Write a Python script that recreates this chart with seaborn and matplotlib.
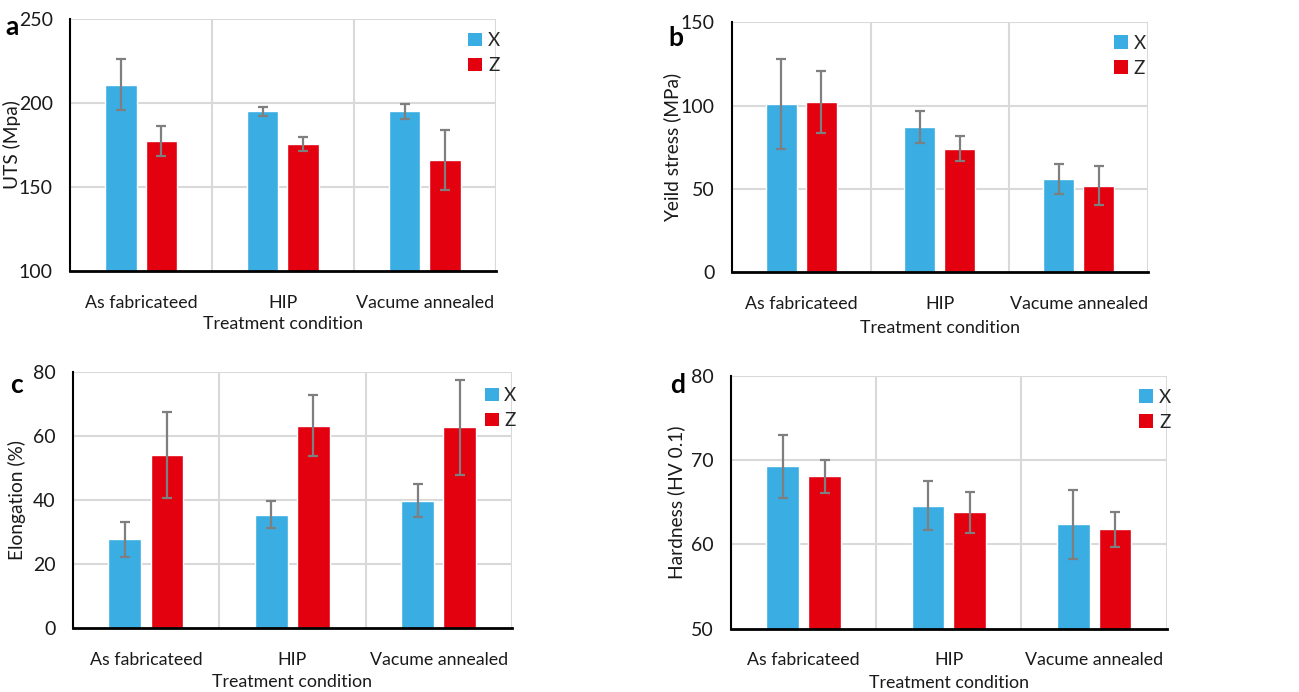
import numpy as np
import pandas as pd
import matplotlib
matplotlib.use("Agg")
import matplotlib.pyplot as plt
from matplotlib.patches import Patch
import seaborn as sns

categories = ["As fabricateed", "HIP", "Vacume annealed"]
directions = ["X", "Z"]

uts_x = [211, 195, 195]
uts_z = [177.5, 175.5, 166]
uts_x_err = [15, 2.5, 4.5]
uts_z_err = [9, 4, 18]

ys_x = [101, 87, 56]
ys_z = [102, 74, 52]
ys_x_err = [27, 9.5, 9]
ys_z_err = [18.5, 7.5, 11.5]

el_x = [27.7, 35.4, 39.7]
el_z = [53.9, 63.1, 62.6]
el_x_err = [5.4, 4.1, 5.2]
el_z_err = [13.4, 9.5, 14.7]

hv_x = [69.3, 64.6, 62.4]
hv_z = [68.1, 63.8, 61.8]
hv_x_err = [3.75, 2.9, 4.1]
hv_z_err = [1.95, 2.4, 2.05]

BLUE = "#3AADE2"
RED = "#E3000F"
ERR = "#7F7F7F"
GRID = "#D9D9D9"
TXT = "#1a1a1a"

sns.set_theme(style="white")
plt.rcParams["font.family"] = ["Lato", "DejaVu Sans"]

fig = plt.figure(figsize=(12.99, 6.92), dpi=100)

panels = [
    dict(rect=[0.0539, 0.6084, 0.3279, 0.3641], x=uts_x, z=uts_z, xe=uts_x_err, ze=uts_z_err,
         ylim=(100, 250), ticks=[100, 150, 200, 250], ylabel="UTS (Mpa)", letter="a",
         lpos=(0.004, 0.950), leg=(1.01, 0.948), ylx=-0.136, xlp=4),
    dict(rect=[0.5633, 0.6065, 0.3205, 0.3613], x=ys_x, z=ys_z, xe=ys_x_err, ze=ys_z_err,
         ylim=(0, 150), ticks=[0, 50, 100, 150], ylabel="Yeild stress (MPa)", letter="b",
         lpos=(0.5145, 0.933), leg=(0.995, 0.95), ylx=-0.143, xlp=6),
    dict(rect=[0.0560, 0.0925, 0.3381, 0.3704], x=el_x, z=el_z, xe=el_x_err, ze=el_z_err,
         ylim=(0, 80), ticks=[0, 20, 40, 60, 80], ylabel="Elongation (%)", letter="c",
         lpos=(0.008, 0.432), leg=(1.01, 0.94), ylx=-0.127, xlp=4.5),
    dict(rect=[0.5627, 0.0915, 0.3355, 0.3651], x=hv_x, z=hv_z, xe=hv_x_err, ze=hv_z_err,
         ylim=(50, 80), ticks=[50, 60, 70, 80], ylabel="Hardness (HV 0.1)", letter="d",
         lpos=(0.516, 0.432), leg=(1.01, 0.95), ylx=-0.1246, xlp=5),
]

for p in panels:
    ax = fig.add_axes(p["rect"])
    df = pd.DataFrame({
        "Treatment": categories * 2,
        "Direction": ["X"] * 3 + ["Z"] * 3,
        "Value": list(p["x"]) + list(p["z"]),
    })
    sns.barplot(data=df, x="Treatment", y="Value", hue="Direction", order=categories,
                hue_order=directions, palette=[BLUE, RED], width=0.576, gap=0.22,
                errorbar=None, saturation=1, ax=ax, legend=False, zorder=3)
    errs = [p["xe"], p["ze"]]
    vals = [p["x"], p["z"]]
    bar_conts = list(ax.containers)
    for i, cont in enumerate(bar_conts):
        xs = [b.get_x() + b.get_width() / 2 for b in cont]
        ax.errorbar(xs, vals[i], yerr=errs[i], fmt="none", ecolor=ERR, elinewidth=1.6,
                    capsize=3.8, capthick=1.6, zorder=4)
    ax.set_xlim(-0.5, 2.5)
    ax.set_ylim(*p["ylim"])
    ax.set_yticks(p["ticks"])
    ax.set_yticklabels([str(t) for t in p["ticks"]])
    for t in p["ticks"][1:]:
        ax.axhline(t, color=GRID, lw=1.5, zorder=1)
    for xv in [0.5, 1.5, 2.5]:
        ax.axvline(xv, color=GRID, lw=1.5, zorder=1)
    for s in ["top", "right"]:
        ax.spines[s].set_visible(False)
    ax.spines["left"].set_color("black")
    ax.spines["left"].set_linewidth(1.5)
    ax.spines["bottom"].set_color("black")
    ax.spines["bottom"].set_linewidth(2)
    ax.spines["left"].set_zorder(5)
    ax.spines["bottom"].set_zorder(5)
    ax.tick_params(axis="both", length=0, colors=TXT)
    ax.tick_params(axis="x", pad=17, labelsize=12.8)
    ax.tick_params(axis="y", pad=12.5, labelsize=14)
    ax.set_xlabel("Treatment condition", fontsize=12.8, color=TXT, labelpad=p["xlp"])
    ax.set_ylabel(p["ylabel"], fontsize=13.8, color=TXT)
    ax.yaxis.set_label_coords(p["ylx"], 0.5)
    ax.yaxis.label.set_verticalalignment("center")
    handles = [Patch(facecolor=BLUE, edgecolor="none", label="X"),
               Patch(facecolor=RED, edgecolor="none", label="Z")]
    ax.legend(handles=handles, loc="upper right", bbox_to_anchor=p["leg"], frameon=False,
              fontsize=13.5, handlelength=0.75, handleheight=0.75, handletextpad=0.3,
              labelspacing=0.42, borderaxespad=0, borderpad=0)
    fig.text(p["lpos"][0], p["lpos"][1], p["letter"], fontsize=19, fontweight="bold",
             color="black", ha="left", va="baseline")

fig.savefig("out.png", dpi=100)
